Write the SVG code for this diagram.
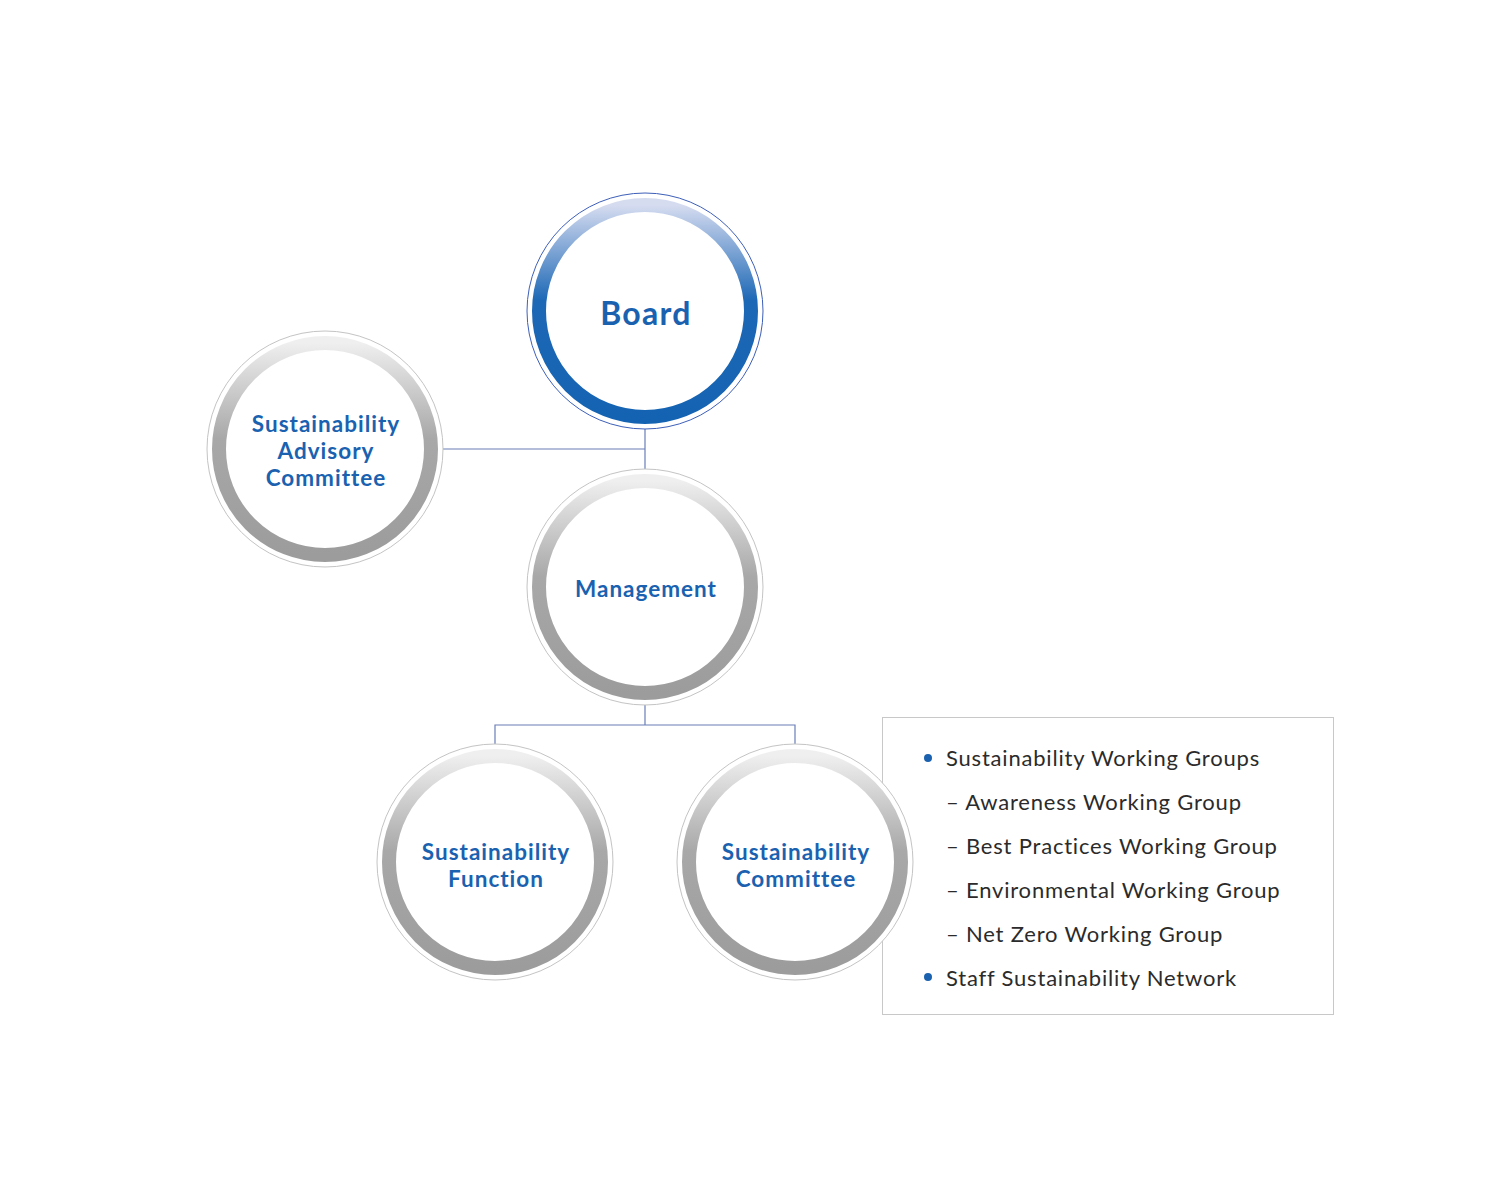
<svg xmlns="http://www.w3.org/2000/svg" width="1497" height="1182" viewBox="0 0 1497 1182">
<style>
.halo{fill:#fff;stroke:#c4c4c4;stroke-width:1}
.haloB{fill:#fff;stroke:#3d5fb8;stroke-width:1}
.ring{fill:#fff;stroke:url(#gGray);stroke-width:14}
.ringB{fill:#fff;stroke:url(#gBlue);stroke-width:14}
.lbl{font-family:Lato,"Open Sans",sans-serif;font-weight:bold;fill:#1a62b0;text-anchor:middle;font-size:22.5px;letter-spacing:1px}
.big{font-size:32px;letter-spacing:1.3px}
.conn{stroke:#6b7fb8;stroke-width:1.2;fill:none}
.item{font-family:Lato,"Open Sans",sans-serif;font-size:22px;fill:#2b2b2b;letter-spacing:0.8px}
.dot{fill:#1a62b0}
</style>
<defs>
<linearGradient id="gGray" x1="0" y1="0" x2="0" y2="1">
<stop offset="0" stop-color="#efefef"/>
<stop offset="0.45" stop-color="#a8a8a8"/>
<stop offset="1" stop-color="#9c9c9c"/>
</linearGradient>
<linearGradient id="gBlue" x1="0" y1="0" x2="0" y2="1">
<stop offset="0" stop-color="#d6dcf0"/>
<stop offset="0.45" stop-color="#1d68b6"/>
<stop offset="1" stop-color="#1463b2"/>
</linearGradient>
</defs>
<g id="groups">
<rect x="882.5" y="717.5" width="451" height="297" fill="#fff" stroke="#c8c8c8" stroke-width="1"/>
<circle class="dot" cx="928" cy="758" r="4"/>
<text class="item" x="946" y="766">Sustainability Working Groups</text>
<text class="item" x="946" y="810">– Awareness Working Group</text>
<text class="item" x="946" y="854">– Best Practices Working Group</text>
<text class="item" x="946" y="898">– Environmental Working Group</text>
<text class="item" x="946" y="942">– Net Zero Working Group</text>
<circle class="dot" cx="928" cy="977" r="4"/>
<text class="item" x="946" y="986">Staff Sustainability Network</text>
</g>
<g id="connectors">
<path class="conn" d="M645 429V469M443 449H645"/>
<path class="conn" d="M645 705V725M495 745V725H795V745"/>
</g>
<g id="board">
<circle class="haloB" cx="645" cy="311" r="118"/>
<circle class="ringB" cx="645" cy="311" r="106"/>
<text class="lbl big" x="646" y="325">Board</text>
</g>
<g id="advisory">
<circle class="halo" cx="325" cy="449" r="118"/>
<circle class="ring" cx="325" cy="449" r="106"/>
<text class="lbl" x="326" y="432">Sustainability</text>
<text class="lbl" x="326" y="459">Advisory</text>
<text class="lbl" x="326" y="486">Committee</text>
</g>
<g id="management">
<circle class="halo" cx="645" cy="587" r="118"/>
<circle class="ring" cx="645" cy="587" r="106"/>
<text class="lbl" x="646" y="597">Management</text>
</g>
<g id="function">
<circle class="halo" cx="495" cy="862" r="118"/>
<circle class="ring" cx="495" cy="862" r="106"/>
<text class="lbl" x="496" y="860">Sustainability</text>
<text class="lbl" x="496" y="887">Function</text>
</g>
<g id="committee">
<circle class="halo" cx="795" cy="862" r="118"/>
<circle class="ring" cx="795" cy="862" r="106"/>
<text class="lbl" x="796" y="860">Sustainability</text>
<text class="lbl" x="796" y="887">Committee</text>
</g>
</svg>
